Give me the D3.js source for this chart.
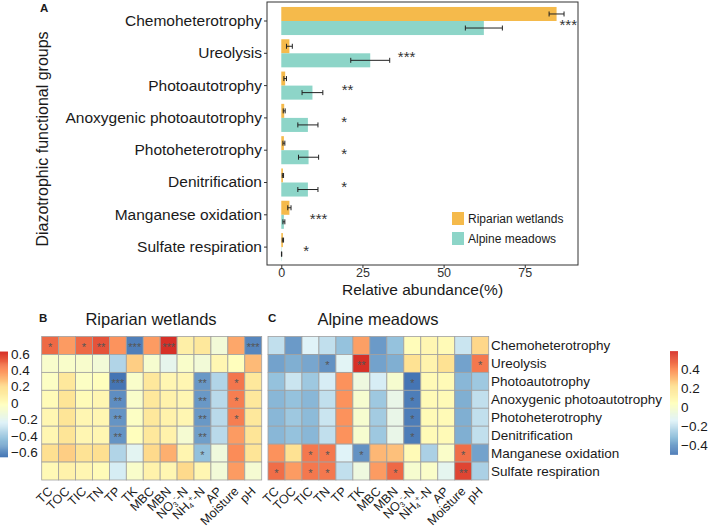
<!DOCTYPE html>
<html><head><meta charset="utf-8">
<script src="https://cdn.jsdelivr.net/npm/d3@7"></script>
<style>body{margin:0;background:#fff;} text{font-family:"Liberation Sans",Arial,Helvetica,sans-serif;fill:#1a1a1a;}</style>
</head><body><svg id="c" width="708" height="528"></svg>
<script>
// ---------- data: panel A ----------
const groups = ["Chemoheterotrophy","Ureolysis","Photoautotrophy","Anoxygenic photoautotrophy","Photoheterotrophy","Denitrification","Manganese oxidation","Sulfate respiration"];
const seriesNames = ["Riparian wetlands","Alpine meadows"];
const riparianMean = [84.8, 2.5, 1.2, 0.9, 0.8, 0.5, 2.5, 0.5];
const riparianErr  = [2.3, 0.9, 0.4, 0.3, 0.3, 0.2, 0.5, 0.2];
const alpineMean   = [62.4, 27.4, 9.6, 8.2, 8.4, 8.2, 0.8, 0.1];
const alpineErr    = [5.7, 6.0, 3.2, 3.1, 3.1, 3.1, 0.3, 0.05];
const sigLabels = ["***","***","**","*","*","*","***","*"];
const sigAt     = [88.4, 38.6, 20.4, 19.4, 19.4, 19.4, 11.5, 7.7];
const xTicks = [0, 25, 50, 75];

// ---------- data: panels B, C ----------
const factors = ["TC","TOC","TIC","TN","TP","TK","MBC","MBN","NO3-N","NH4+-N","AP","Moisture","pH"];
const corrRiparian = [
  [0.50, 0.38, 0.50, 0.55, 0.40, -0.62, 0.38, 0.63, 0.10, 0.15, -0.10, 0.35, -0.60],
  [-0.06,-0.05,-0.06,-0.10,-0.35, 0.25,-0.07,-0.18,-0.05,-0.10, 0.05, 0.00, 0.30],
  [-0.03, 0.15,-0.03, 0.00,-0.65,-0.05, 0.15, 0.05, 0.05,-0.55,-0.35, 0.47, 0.15],
  [0.02, 0.17, 0.02, 0.05,-0.58,-0.05, 0.15, 0.08, 0.05,-0.55,-0.33, 0.45, 0.15],
  [0.05, 0.17, 0.05, 0.05,-0.56,-0.03, 0.15, 0.08, 0.05,-0.55,-0.33, 0.45, 0.15],
  [0.05, 0.17, 0.05, 0.05,-0.56, 0.00, 0.15, 0.08,-0.08,-0.53,-0.33, 0.38, 0.17],
  [0.20, 0.25, 0.18, 0.20,-0.35,-0.20, 0.22, 0.33, 0.06,-0.43,-0.12, 0.42, 0.17],
  [0.03, 0.08, 0.05, 0.02,-0.25,-0.05, 0.08, 0.05, 0.22, 0.05,-0.10, 0.38,-0.08]
];
const sigRiparian = [
  ["*","","*","**","","***","","***","","","","","***"],
  ["","","","","","","","","","","","",""],
  ["","","","","***","","","","","**","","*",""],
  ["","","","","**","","","","","**","","*",""],
  ["","","","","**","","","","","**","","*",""],
  ["","","","","**","","","","","**","","",""],
  ["","","","","","","","","","*","","",""],
  ["","","","","","","","","","","","",""]
];
const corrAlpine = [
  [-0.20,-0.40,-0.13,-0.20,-0.30, 0.37,-0.40,-0.30, 0.07, 0.10, 0.08,-0.18, 0.25],
  [-0.38,-0.35,-0.37,-0.42,-0.12, 0.59,-0.38,-0.35, 0.22, 0.12, 0.22,-0.38, 0.45],
  [-0.30,-0.18,-0.28,-0.15, 0.40,-0.05,-0.15, 0.00,-0.49, 0.08, 0.08,-0.33,-0.28],
  [-0.33,-0.30,-0.33,-0.20, 0.40, 0.00,-0.28,-0.08,-0.47, 0.08, 0.08,-0.35,-0.20],
  [-0.33,-0.28,-0.32,-0.18, 0.40, 0.00,-0.27,-0.08,-0.47, 0.08, 0.08,-0.35,-0.20],
  [-0.33,-0.30,-0.33,-0.20, 0.40, 0.00,-0.28,-0.08,-0.47, 0.08, 0.08,-0.35,-0.20],
  [0.40, 0.22, 0.45, 0.45,-0.13,-0.42, 0.32, 0.30, 0.08,-0.25, 0.02, 0.47,-0.38],
  [0.47, 0.38, 0.45, 0.45,-0.20,-0.05, 0.38, 0.48, 0.00, 0.02,-0.10, 0.55,-0.25]
];
const sigAlpine = [
  ["","","","","","","","","","","","",""],
  ["","","","*","","**","","","","","","","*"],
  ["","","","","","","","","*","","","",""],
  ["","","","","","","","","*","","","",""],
  ["","","","","","","","","*","","","",""],
  ["","","","","","","","","*","","","",""],
  ["","","*","*","","*","","","","","","*",""],
  ["*","","*","*","","","","*","","","","**",""]
];
const cbTicksRiparian = [0.6, 0.4, 0.2, 0, -0.2, -0.4, -0.6];
const cbTicksAlpine = [0.4, 0.2, 0, -0.2, -0.4];
const palette = ["#4575B4","#91BFDB","#E0F3F8","#FFFFBF","#FEE090","#FC8D59","#D73027"];

// ---------- drawing ----------
const svg = d3.select("#c");
const colBar = {"Riparian wetlands":"#F5BA4B","Alpine meadows":"#8DD5C8"};

// Panel A
const pA = {l:267, r:578, t:2, b:265};
const x = d3.scaleLinear().domain([-4.4, 91.4]).range([pA.l, pA.r]);
const y = d3.scaleBand().domain(groups).range([4.85, 263.25]);
const ySub = d3.scaleBand().domain(seriesNames).range([0, y.bandwidth()]).paddingOuter(0.15);

const barData = [];
groups.forEach((g,i)=>{
  barData.push({g, s:seriesNames[0], v:riparianMean[i], e:riparianErr[i]});
  barData.push({g, s:seriesNames[1], v:alpineMean[i], e:alpineErr[i]});
});
const gA = svg.append("g");
gA.selectAll("rect.bar").data(barData).join("rect")
  .attr("x", x(0)).attr("y", d=>y(d.g)+ySub(d.s))
  .attr("width", d=>x(d.v)-x(0)).attr("height", ySub.bandwidth())
  .attr("fill", d=>colBar[d.s]);
const cy = d=>y(d.g)+ySub(d.s)+ySub.bandwidth()/2;
const eb = gA.selectAll("g.eb").data(barData).join("g").attr("stroke","#222").attr("stroke-width",1);
eb.append("line").attr("x1",d=>x(d.v-d.e)).attr("x2",d=>x(d.v+d.e)).attr("y1",cy).attr("y2",cy);
eb.append("line").attr("x1",d=>x(d.v-d.e)).attr("x2",d=>x(d.v-d.e)).attr("y1",d=>cy(d)-2.5).attr("y2",d=>cy(d)+2.5);
eb.append("line").attr("x1",d=>x(d.v+d.e)).attr("x2",d=>x(d.v+d.e)).attr("y1",d=>cy(d)-2.5).attr("y2",d=>cy(d)+2.5);

gA.selectAll("text.sig").data(groups).join("text")
  .attr("x",(d,i)=>x(sigAt[i])).attr("y",d=>y(d)+y.bandwidth()/2+9)
  .attr("text-anchor","middle").attr("font-size",15).style("fill","#333")
  .text((d,i)=>sigLabels[i]);

gA.append("rect").attr("x",pA.l).attr("y",pA.t).attr("width",pA.r-pA.l).attr("height",pA.b-pA.t)
  .attr("fill","none").attr("stroke","#333").attr("stroke-width",1);

// axes
const xAxis = d3.axisBottom(x).tickValues(xTicks).tickSize(3).tickPadding(0);
const gx = svg.append("g").attr("transform",`translate(0,${pA.b})`).call(xAxis);
gx.select(".domain").remove();
gx.selectAll(".tick line").attr("stroke","#333");
gx.selectAll(".tick text").attr("font-size",12.5).style("fill","#333").attr("font-family","Liberation Sans, Arial, sans-serif");
const yAxis = d3.axisLeft(y).tickSize(3).tickPadding(2);
const gy = svg.append("g").attr("transform",`translate(${pA.l},0)`).call(yAxis);
gy.select(".domain").remove();
gy.selectAll(".tick line").attr("stroke","#333");
gy.selectAll(".tick text").attr("font-size",15.5).style("fill","#1a1a1a").attr("font-family","Liberation Sans, Arial, sans-serif");

svg.append("text").attr("x",(pA.l+pA.r)/2).attr("y",295).attr("text-anchor","middle").attr("font-size",15.5).text("Relative abundance(%)");
svg.append("text").attr("transform","translate(48,139) rotate(-90)").attr("text-anchor","middle").attr("font-size",16).text("Diazotrophic functional groups");
svg.append("text").attr("x",40).attr("y",12).attr("font-size",11.5).attr("font-weight","bold").text("A");

// legend
seriesNames.forEach((s,i)=>{
  svg.append("rect").attr("x",452).attr("y",212+i*20).attr("width",12).attr("height",13).attr("fill",colBar[s]);
  svg.append("text").attr("x",468).attr("y",223+i*20).attr("font-size",12).text(s);
});

// Heatmaps
const rowBand = d3.scaleBand().domain(groups).range([336.5, 480]);
function heat(x0, x1, data, sig, title, letter, letterX, titleX) {
  const xb = d3.scaleBand().domain(factors).range([x0, x1]);
  const vals = data.flat();
  const [mn, mx] = d3.extent(vals);
  const color = d3.scaleLinear().domain(d3.range(7).map(i=>mn+(mx-mn)*i/6)).range(palette).interpolate(d3.interpolateRgb);
  const g = svg.append("g");
  const cells = [];
  data.forEach((row,ri)=>row.forEach((v,ci)=>cells.push({r:groups[ri], c:factors[ci], v, s:sig[ri][ci]})));
  g.selectAll("rect").data(cells).join("rect")
    .attr("x",d=>xb(d.c)).attr("y",d=>rowBand(d.r)).attr("width",xb.bandwidth()).attr("height",rowBand.bandwidth())
    .attr("fill",d=>color(d.v)).attr("stroke","#a0a0a0").attr("stroke-width",0.8);
  g.selectAll("text.st").data(cells.filter(d=>d.s)).join("text").attr("class","st")
    .attr("x",d=>xb(d.c)+xb.bandwidth()/2).attr("y",d=>rowBand(d.r)+rowBand.bandwidth()/2+5.5)
    .attr("text-anchor","middle").attr("font-size",11).style("fill","#555").text(d=>d.s);
  // column labels
  const lab = g.selectAll("text.cl").data(factors).join("text").attr("class","cl")
    .attr("transform",d=>`translate(${xb(d)+xb.bandwidth()/2-3},${486}) rotate(-45)`)
    .attr("text-anchor","end").attr("dy","0.7em").attr("font-size",12.5);
  lab.each(function(d){
    const t = d3.select(this);
    if (d==="NO3-N") {
      t.append("tspan").text("NO");
      t.append("tspan").attr("font-size",7.5).attr("dy",2).text("3");
      t.append("tspan").attr("font-size",7.5).attr("dy",-6).text("-");
      t.append("tspan").attr("dy",4).text("-N");
    } else if (d==="NH4+-N") {
      t.append("tspan").text("NH");
      t.append("tspan").attr("font-size",7.5).attr("dy",2).text("4");
      t.append("tspan").attr("font-size",7.5).attr("dy",-6).text("+");
      t.append("tspan").attr("dy",4).text("-N");
    } else t.text(d);
  });
  svg.append("text").attr("x",titleX).attr("y",325).attr("text-anchor","middle").attr("font-size",16.5).text(title);
  svg.append("text").attr("x",letterX).attr("y",322).attr("font-size",11.5).attr("font-weight","bold").text(letter);
  return color;
}
const colB = heat(41.7, 261.7, corrRiparian, sigRiparian, "Riparian wetlands", "B", 39, 151);
const colC = heat(268, 488.7, corrAlpine, sigAlpine, "Alpine meadows", "C", 268, 378);

// row labels on right of C
svg.selectAll("text.rl").data(groups).join("text").attr("class","rl")
  .attr("x",491).attr("y",d=>rowBand(d)+rowBand.bandwidth()/2+5).attr("font-size",13.5).text(d=>d);

// colour bars
function colorbar(color, data, ticks, x0, yTop, yBot, labX) {
  const [mn, mx] = d3.extent(data.flat());
  const ys = d3.scaleLinear().domain([ticks[0], ticks[ticks.length-1]]).range([yTop, yBot]);
  const n = 100;
  const steps = d3.range(n).map(i=>mn+(mx-mn)*(i+0.5)/n);
  const h = Math.abs(ys(mx)-ys(mn))/n;
  svg.append("g").selectAll("rect").data(steps).join("rect")
    .attr("x",x0).attr("width",8).attr("y",d=>ys(d)-h/2).attr("height",h+0.5).attr("fill",d=>color(d));
  svg.append("g").selectAll("text").data(ticks).join("text")
    .attr("x",labX).attr("y",d=>ys(d)+4.5).attr("font-size",13.5)
    .text(d=>d<0 ? "\u2212"+Math.abs(d) : String(d));
}
colorbar(colB, corrRiparian, cbTicksRiparian, 0, 354, 452.7, 11);
colorbar(colC, corrAlpine, cbTicksAlpine, 670, 369.3, 445.7, 681);
</script></body></html>
